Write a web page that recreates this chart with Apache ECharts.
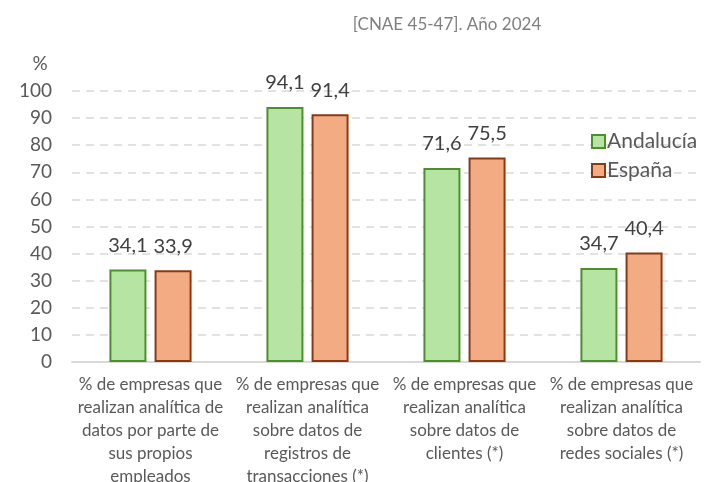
<!DOCTYPE html>
<html>
<head>
<meta charset="utf-8">
<script src="https://cdn.jsdelivr.net/npm/echarts@6/dist/echarts.min.js"></script>
<style>
  html, body { margin: 0; padding: 0; background: #fff; }
  #chart { width: 718px; height: 482px; }
</style>
</head>
<body>
<div id="chart"></div>
<script>
const categories = [
  "% de empresas que\nrealizan analítica de\ndatos por parte de\nsus propios\nempleados",
  "% de empresas que\nrealizan analítica\nsobre datos de\nregistros de\ntransacciones (*)",
  "% de empresas que\nrealizan analítica\nsobre datos de\nclientes (*)",
  "% de empresas que\nrealizan analítica\nsobre datos de\nredes sociales (*)"
]
const andalucia = [34.1, 94.1, 71.6, 34.7]
const espana = [33.9, 91.4, 75.5, 40.4]
const yTicks = { min: 0, max: 100, interval: 10 }

const font = "Lato, 'Open Sans', sans-serif"

// etiquetas con coma decimal
const fmt = p => p.value.toFixed(1).replace(".", ",")

let option = {
  backgroundColor: "#ffffff",
  textStyle: { fontFamily: font },
  title: {
    text: "[CNAE 45-47]. Año 2024",
    left: 442,
    top: 11,
    textAlign: "center",
    textStyle: { color: "#7f7f7f", fontSize: 17, fontWeight: "normal", fontFamily: font }
  },
  grid: { left: 72, right: 18, top: 91, bottom: 120, outerBoundsMode: "none" },
  legend: {
    orient: "vertical",
    left: 586,
    top: 126,
    icon: "rect",
    itemWidth: 13,
    itemHeight: 13,
    itemGap: 8,
    textStyle: { color: "#595959", fontSize: 21, fontFamily: font, padding: [0, 0, 0, -3] },
    data: ["Andalucía", "España"]
  },
  xAxis: {
    type: "category",
    data: categories,
    axisLine: { show: true, lineStyle: { color: "#d9d9d9", width: 2 } },
    axisTick: { show: false },
    axisLabel: {
      interval: 0,
      color: "#595959",
      fontSize: 17,
      lineHeight: 23,
      margin: 11,
      fontFamily: font
    }
  },
  yAxis: {
    type: "value",
    min: yTicks.min,
    max: yTicks.max,
    interval: yTicks.interval,
    name: "%",
    nameLocation: "end",
    nameGap: 18,
    nameTextStyle: { color: "#595959", fontSize: 19, fontFamily: font, padding: [0, 64, 0, 0] },
    axisLine: { show: false },
    axisTick: { show: false },
    axisLabel: { color: "#595959", fontSize: 19, margin: 20, fontFamily: font },
    splitLine: { show: true, lineStyle: { color: "#d9d9d9", width: 1.5, type: [8, 6] } }
  },
  series: [
    {
      name: "Andalucía",
      type: "bar",
      barWidth: 37,
      barGap: "22%",
      data: andalucia,
      itemStyle: { color: "#b6e5a3", borderColor: "#4d8f2a", borderWidth: 2 },
      label: {
        show: true,
        position: "top",
        distance: 14,
        formatter: fmt,
        color: "#404040",
        fontSize: 20,
        fontFamily: font
      }
    },
    {
      name: "España",
      type: "bar",
      barWidth: 37,
      data: espana,
      itemStyle: { color: "#f3ab83", borderColor: "#8a3a12", borderWidth: 2 },
      label: {
        show: true,
        position: "top",
        distance: 14,
        formatter: fmt,
        color: "#404040",
        fontSize: 20,
        fontFamily: font
      }
    }
  ]
}

let chartEl = echarts.init(document.getElementById("chart"))
chartEl.setOption(option)
</script>
</body>
</html>
